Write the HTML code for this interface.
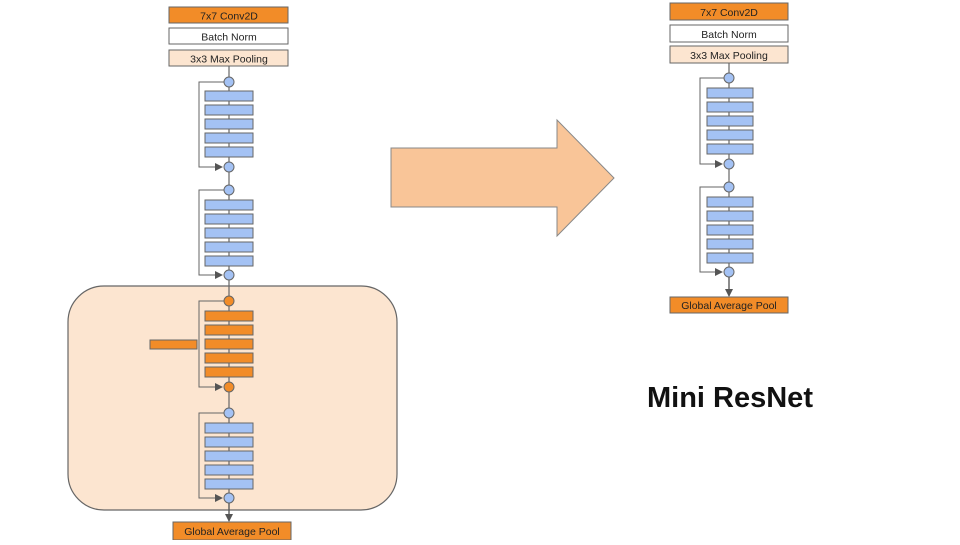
<!DOCTYPE html>
<html><head><meta charset="utf-8"><style>
body{margin:0;background:#fff;}
svg text{font-family:"Liberation Sans",sans-serif;}
</style></head><body>
<svg width="960" height="540" viewBox="0 0 960 540" xmlns="http://www.w3.org/2000/svg">
<defs>
<marker id="ah" markerWidth="8" markerHeight="8" refX="7" refY="4" orient="auto" markerUnits="userSpaceOnUse"><path d="M0,0 L8,4 L0,8 z" fill="#555"/></marker>
</defs>
<rect x="68" y="286" width="329" height="224" rx="36" fill="#fce5d0" stroke="#666" stroke-width="1.2"/>
<!-- big arrow -->
<path d="M391,148 H557 V120 L614,178 L557,236 V207 H391 Z" fill="#f9c598" stroke="#888" stroke-width="1"/>

<g id="left">
<line x1="229" y1="66" x2="229" y2="518" stroke="#666" stroke-width="1.2"/>
<rect x="169" y="7" width="119" height="16" fill="#f28c28" stroke="#666"/>
<text x="229" y="19.5" font-size="10.5" text-anchor="middle" fill="#222">7x7 Conv2D</text>
<rect x="169" y="28" width="119" height="16" fill="#fff" stroke="#666"/>
<text x="229" y="40.5" font-size="10.5" text-anchor="middle" fill="#222">Batch Norm</text>
<rect x="169" y="50" width="119" height="16" fill="#fce5d0" stroke="#666"/>
<text x="229" y="62.5" font-size="10.5" text-anchor="middle" fill="#222">3x3 Max Pooling</text>
</g>

<g stroke="#666" stroke-width="1">
<!-- block helper: left blocks -->
<polyline points="224,82 199,82 199,167 222,167" fill="none" marker-end="url(#ah)"/>
<polyline points="224,190 199,190 199,275 222,275" fill="none" marker-end="url(#ah)"/>
<polyline points="224,301 199,301 199,387 222,387" fill="none" marker-end="url(#ah)"/>
<polyline points="224,413 199,413 199,498 222,498" fill="none" marker-end="url(#ah)"/>
</g>
<g fill="#a4c2f4" stroke="#666">
<rect x="205" y="91" width="48" height="10"/><rect x="205" y="105" width="48" height="10"/><rect x="205" y="119" width="48" height="10"/><rect x="205" y="133" width="48" height="10"/><rect x="205" y="147" width="48" height="10"/>
<rect x="205" y="200" width="48" height="10"/><rect x="205" y="214" width="48" height="10"/><rect x="205" y="228" width="48" height="10"/><rect x="205" y="242" width="48" height="10"/><rect x="205" y="256" width="48" height="10"/>
<rect x="205" y="423" width="48" height="10"/><rect x="205" y="437" width="48" height="10"/><rect x="205" y="451" width="48" height="10"/><rect x="205" y="465" width="48" height="10"/><rect x="205" y="479" width="48" height="10"/>
<circle cx="229" cy="82" r="5"/><circle cx="229" cy="167" r="5"/><circle cx="229" cy="190" r="5"/><circle cx="229" cy="275" r="5"/><circle cx="229" cy="413" r="5"/><circle cx="229" cy="498" r="5"/>
</g>
<g fill="#f28c28" stroke="#666">
<rect x="205" y="311" width="48" height="10"/><rect x="205" y="325" width="48" height="10"/><rect x="205" y="339" width="48" height="10"/><rect x="205" y="353" width="48" height="10"/><rect x="205" y="367" width="48" height="10"/>
<rect x="150" y="340" width="47" height="9"/>
<circle cx="229" cy="301" r="5"/><circle cx="229" cy="387" r="5"/>
</g>
<line x1="229" y1="503" x2="229" y2="521" stroke="#555" stroke-width="1.2" marker-end="url(#ah)"/>
<rect x="173" y="522" width="118" height="18" fill="#f28c28" stroke="#666"/>
<text x="232" y="535" font-size="10.5" text-anchor="middle" fill="#222">Global Average Pool</text>

<!-- right -->
<line x1="729" y1="63" x2="729" y2="290" stroke="#666" stroke-width="1.2"/>
<rect x="670" y="3" width="118" height="17" fill="#f28c28" stroke="#666"/>
<text x="729" y="16" font-size="10.5" text-anchor="middle" fill="#222">7x7 Conv2D</text>
<rect x="670" y="25" width="118" height="17" fill="#fff" stroke="#666"/>
<text x="729" y="38" font-size="10.5" text-anchor="middle" fill="#222">Batch Norm</text>
<rect x="670" y="46" width="118" height="17" fill="#fce5d0" stroke="#666"/>
<text x="729" y="59" font-size="10.5" text-anchor="middle" fill="#222">3x3 Max Pooling</text>
<g stroke="#666" stroke-width="1">
<polyline points="724,78 700,78 700,164 722,164" fill="none" marker-end="url(#ah)"/>
<polyline points="724,187 700,187 700,272 722,272" fill="none" marker-end="url(#ah)"/>
</g>
<g fill="#a4c2f4" stroke="#666">
<rect x="707" y="88" width="46" height="10"/><rect x="707" y="102" width="46" height="10"/><rect x="707" y="116" width="46" height="10"/><rect x="707" y="130" width="46" height="10"/><rect x="707" y="144" width="46" height="10"/>
<rect x="707" y="197" width="46" height="10"/><rect x="707" y="211" width="46" height="10"/><rect x="707" y="225" width="46" height="10"/><rect x="707" y="239" width="46" height="10"/><rect x="707" y="253" width="46" height="10"/>
<circle cx="729" cy="78" r="5"/><circle cx="729" cy="164" r="5"/><circle cx="729" cy="187" r="5"/><circle cx="729" cy="272" r="5"/>
</g>
<line x1="729" y1="277" x2="729" y2="296" stroke="#555" stroke-width="1.2" marker-end="url(#ah)"/>
<rect x="670" y="297" width="118" height="16" fill="#f28c28" stroke="#666"/>
<text x="729" y="309" font-size="10.5" text-anchor="middle" fill="#222">Global Average Pool</text>

<text x="730" y="407" font-size="29" font-weight="bold" text-anchor="middle" fill="#111">Mini ResNet</text>
</svg>
</body></html>
